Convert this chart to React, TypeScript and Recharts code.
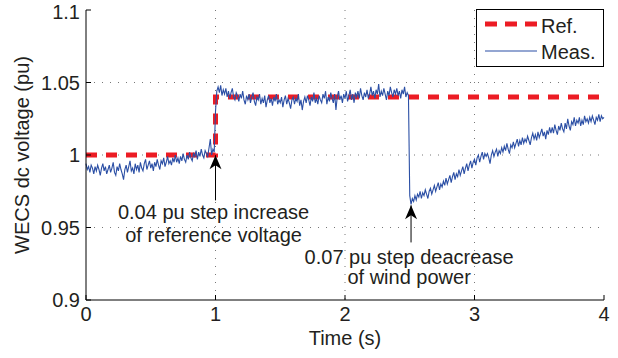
import React from "react";
import {
  LineChart,
  Line,
  XAxis,
  YAxis,
  CartesianGrid,
  Legend,
  ReferenceLine,
  ReferenceDot,
  Label,
} from "recharts";

// ---------- data ----------
const sampleStep = 0.01; // s, sampling of the measured trace
const measValues: number[] = [
  // 0.00 - 0.99
  0.994, 0.990, 0.992, 0.988, 0.993, 0.991, 0.987, 0.992, 0.989, 0.993,
  0.990, 0.986, 0.991, 0.994, 0.989, 0.992, 0.987, 0.990, 0.993, 0.988,
  0.991, 0.995, 0.988, 0.986, 0.992, 0.989, 0.994, 0.990, 0.987, 0.983,
  0.990, 0.993, 0.988, 0.992, 0.996, 0.989, 0.991, 0.987, 0.994, 0.990,
  0.993, 0.988, 0.995, 0.991, 0.989, 0.994, 0.997, 0.990, 0.993, 0.996,
  0.991, 0.994, 0.989, 0.995, 0.992, 0.997, 0.993, 0.990, 0.996, 0.994,
  0.998, 0.992, 0.995, 0.999, 0.994, 0.996, 0.993, 0.998, 0.995, 1.000,
  0.995, 0.998, 0.994, 0.999, 0.996, 1.001, 0.997, 0.995, 1.000, 0.997,
  1.002, 0.998, 0.996, 1.001, 0.999, 1.003, 0.997, 1.002, 0.999, 1.004,
  1.000, 0.998, 1.003, 1.001, 0.999, 1.005, 1.011, 1.000, 1.004, 1.002,
  // 1.00 - 2.49
  1.030, 1.044, 1.047, 1.043, 1.048, 1.041, 1.045, 1.042, 1.046, 1.040,
  1.044, 1.039, 1.043, 1.046, 1.040, 1.038, 1.043, 1.041, 1.037, 1.042,
  1.039, 1.044, 1.038, 1.035, 1.041, 1.038, 1.042, 1.036, 1.040, 1.043,
  1.037, 1.034, 1.040, 1.038, 1.042, 1.035, 1.039, 1.036, 1.041, 1.033,
  1.038, 1.041, 1.036, 1.039, 1.034, 1.040, 1.037, 1.042, 1.035, 1.038,
  1.036, 1.040, 1.033, 1.038, 1.041, 1.035, 1.039, 1.036, 1.032, 1.038,
  1.040, 1.035, 1.039, 1.037, 1.042, 1.034, 1.038, 1.031, 1.037, 1.040,
  1.036, 1.041, 1.038, 1.034, 1.040, 1.037, 1.043, 1.036, 1.039, 1.035,
  1.041, 1.038, 1.036, 1.042, 1.039, 1.044, 1.035, 1.040, 1.037, 1.043,
  1.039, 1.036, 1.042, 1.031, 1.040, 1.044, 1.038, 1.041, 1.036, 1.042,
  1.039, 1.044, 1.037, 1.041, 1.045, 1.038, 1.042, 1.036, 1.043, 1.040,
  1.044, 1.039, 1.046, 1.041, 1.038, 1.043, 1.040, 1.045, 1.039, 1.042,
  1.047, 1.041, 1.044, 1.039, 1.045, 1.042, 1.049, 1.040, 1.044, 1.041,
  1.046, 1.042, 1.038, 1.044, 1.041, 1.047, 1.043, 1.040, 1.045, 1.042,
  1.046, 1.041, 1.044, 1.039, 1.045, 1.042, 1.047, 1.040, 1.043, 1.041,
  // 2.50 - 3.99
  0.972, 0.966, 0.970, 0.968, 0.972, 0.969, 0.973, 0.971, 0.975, 0.970,
  0.974, 0.972, 0.976, 0.973, 0.970, 0.975, 0.977, 0.973, 0.976, 0.979,
  0.975, 0.978, 0.981, 0.976, 0.980, 0.978, 0.982, 0.979, 0.984, 0.980,
  0.983, 0.986, 0.981, 0.985, 0.988, 0.983, 0.987, 0.985, 0.990, 0.986,
  0.989, 0.992, 0.987, 0.991, 0.994, 0.989, 0.993, 0.996, 0.991, 0.995,
  0.997, 0.993, 0.998, 1.000, 0.995, 0.999, 1.002, 0.997, 1.001, 0.999,
  1.001, 0.998, 0.994, 1.000, 1.003, 0.999, 1.002, 1.004, 0.999, 1.003,
  1.001, 1.005, 1.002, 1.006, 1.003, 1.008, 1.004, 1.001, 1.007, 1.005,
  1.009, 1.005, 1.008, 1.011, 1.006, 1.010, 1.007, 1.012, 1.008, 1.011,
  1.009, 1.013, 1.010, 1.007, 1.012, 1.015, 1.011, 1.014, 1.010, 1.016,
  1.012, 1.015, 1.018, 1.013, 1.016, 1.011, 1.017, 1.014, 1.019, 1.015,
  1.019, 1.015, 1.021, 1.017, 1.014, 1.020, 1.017, 1.022, 1.018, 1.016,
  1.022, 1.018, 1.025, 1.020, 1.017, 1.023, 1.021, 1.026, 1.020, 1.024,
  1.022, 1.026, 1.020, 1.024, 1.021, 1.027, 1.023, 1.025, 1.022, 1.026,
  1.023, 1.027, 1.024, 1.021, 1.026, 1.024, 1.028, 1.023, 1.027, 1.025,
  // 4.00
  1.026,
];

const refTimes = [0, 1, 1, 4];
const refValues = [1.0, 1.0, 1.04, 1.04];

const xTicks = [0, 1, 2, 3, 4];
const yTicks = [0.9, 0.95, 1, 1.05, 1.1];

const annotations = [
  {
    tipX: 1.0,
    tipY: 0.9998,
    tailY: 0.9687,
    textX: 0.985,
    lines: [
      { y: 0.9605, text: "0.04 pu step increase" },
      { y: 0.9446, text: "of reference voltage" },
    ],
  },
  {
    tipX: 2.51,
    tipY: 0.9653,
    tailY: 0.9397,
    textX: 2.495,
    lines: [
      { y: 0.9294, text: "0.07 pu step deacrease" },
      { y: 0.9156, text: "of wind power" },
    ],
  },
];

const measData = measValues.map((v, i) => ({ t: +(i * sampleStep).toFixed(2), v }));
const refData = refTimes.map((t, i) => ({ t, v: refValues[i] }));

// ---------- style ----------
const FONT = "'Liberation Sans', Arial, Helvetica, sans-serif";
const FS = 20;
const RED = "#ec1c24";
const BLUE = "#2b4fa5";
const TEXT = "#231f20";

const Arrowhead = (props: any) => {
  const { cx, cy } = props;
  return (
    <path
      d={`M${cx},${cy} L${cx + 6},${cy + 14} L${cx},${cy + 10} L${cx - 6},${cy + 14} Z`}
      fill="#000"
    />
  );
};

const makeText = (text: string) => (props: any) => {
  const { cx, cy } = props;
  return (
    <text
      x={cx}
      y={cy}
      textAnchor="middle"
      dominantBaseline="central"
      fontFamily={FONT}
      fontSize={FS}
      fill={TEXT}
    >
      {text}
    </text>
  );
};

const LegendBox = () => (
  <div
    style={{
      width: 128,
      height: 58,
      boxSizing: "border-box",
      border: "1px solid #000",
      background: "#fff",
    }}
  >
    <svg width={126} height={56} style={{ display: "block" }}>
      <line x1={8} x2={60} y1={14} y2={14} stroke={RED} strokeWidth={5} strokeDasharray="12 8" />
      <text x={64} y={16} dominantBaseline="central" fontFamily={FONT} fontSize={FS} fill={TEXT}>
        Ref.
      </text>
      <line x1={8} x2={60} y1={41} y2={41} stroke={BLUE} strokeWidth={1.2} />
      <text x={64} y={42} dominantBaseline="central" fontFamily={FONT} fontSize={FS} fill={TEXT}>
        Meas.
      </text>
    </svg>
  </div>
);

export default function App() {
  return (
    <div style={{ position: "absolute", left: 0, top: 0, width: 618, height: 358, background: "#fff" }}>
      <LineChart width={618} height={358} margin={{ top: 10, right: 14, left: 0, bottom: 0 }}>
        <CartesianGrid
          stroke="#777"
          strokeDasharray="1 7"
          horizontalValues={[0.95, 1, 1.05]}
          verticalValues={[1, 2, 3]}
        />
        <XAxis
          dataKey="t"
          type="number"
          domain={[0, 4]}
          ticks={xTicks}
          height={58}
          tickSize={-5}
          tickMargin={12}
          axisLine={{ stroke: "#000" }}
          tickLine={{ stroke: "#000" }}
          tick={{ fontFamily: FONT, fontSize: FS, fill: TEXT }}
          allowDuplicatedCategory={false}
        >
          <Label
            content={(p: any) => {
              const vb = p.viewBox;
              return (
                <text
                  x={vb.x + vb.width / 2}
                  y={vb.y + 38}
                  textAnchor="middle"
                  dominantBaseline="central"
                  fontFamily={FONT}
                  fontSize={FS}
                  fill={TEXT}
                >
                  Time (s)
                </text>
              );
            }}
          />
        </XAxis>
        <XAxis
          xAxisId="top"
          dataKey="t"
          type="number"
          orientation="top"
          domain={[0, 4]}
          ticks={xTicks}
          height={0}
          tickSize={-5}
          tick={false}
          axisLine={{ stroke: "#000" }}
          tickLine={{ stroke: "#000" }}
        />
        <YAxis
          type="number"
          domain={[0.9, 1.1]}
          ticks={yTicks}
          width={86}
          tickSize={-5}
          tickMargin={11}
          axisLine={{ stroke: "#000" }}
          tickLine={{ stroke: "#000" }}
          tick={{ fontFamily: FONT, fontSize: FS, fill: TEXT }}
        >
          <Label
            content={(p: any) => {
              const vb = p.viewBox;
              const cx = vb.x + 22;
              const cy = vb.y + vb.height / 2;
              return (
                <text
                  x={cx}
                  y={cy}
                  transform={`rotate(-90 ${cx} ${cy})`}
                  textAnchor="middle"
                  dominantBaseline="central"
                  fontFamily={FONT}
                  fontSize={FS}
                  fill={TEXT}
                >
                  WECS dc voltage (pu)
                </text>
              );
            }}
          />
        </YAxis>
        <YAxis
          yAxisId="right"
          type="number"
          orientation="right"
          domain={[0.9, 1.1]}
          ticks={yTicks}
          width={0}
          tickSize={-5}
          tick={false}
          axisLine={{ stroke: "#000" }}
          tickLine={{ stroke: "#000" }}
        />
        <Legend
          layout="vertical"
          align="center"
          verticalAlign="middle"
          content={() => <LegendBox />}
          wrapperStyle={{ position: "absolute", left: 476, top: 9, width: 128, height: 58 }}
        />
        <Line
          data={refData}
          dataKey="v"
          name="Ref."
          type="linear"
          stroke={RED}
          strokeWidth={5}
          strokeDasharray="11 9"
          dot={false}
          activeDot={false}
          isAnimationActive={false}
        />
        <Line
          data={measData}
          dataKey="v"
          name="Meas."
          type="linear"
          stroke={BLUE}
          strokeWidth={1.1}
          dot={false}
          activeDot={false}
          isAnimationActive={false}
        />
        {annotations.map((a, i) => (
          <ReferenceLine
            key={`shaft-${i}`}
            segment={[
              { x: a.tipX, y: a.tipY },
              { x: a.tipX, y: a.tailY },
            ]}
            stroke="#000"
            strokeWidth={1}
          />
        ))}
        {annotations.map((a, i) => (
          <ReferenceDot key={`head-${i}`} x={a.tipX} y={a.tipY} r={0} shape={Arrowhead} />
        ))}
        {annotations.flatMap((a, i) =>
          a.lines.map((l, j) => (
            <ReferenceDot key={`txt-${i}-${j}`} x={a.textX} y={l.y} r={0} shape={makeText(l.text)} />
          ))
        )}
      </LineChart>
    </div>
  );
}
